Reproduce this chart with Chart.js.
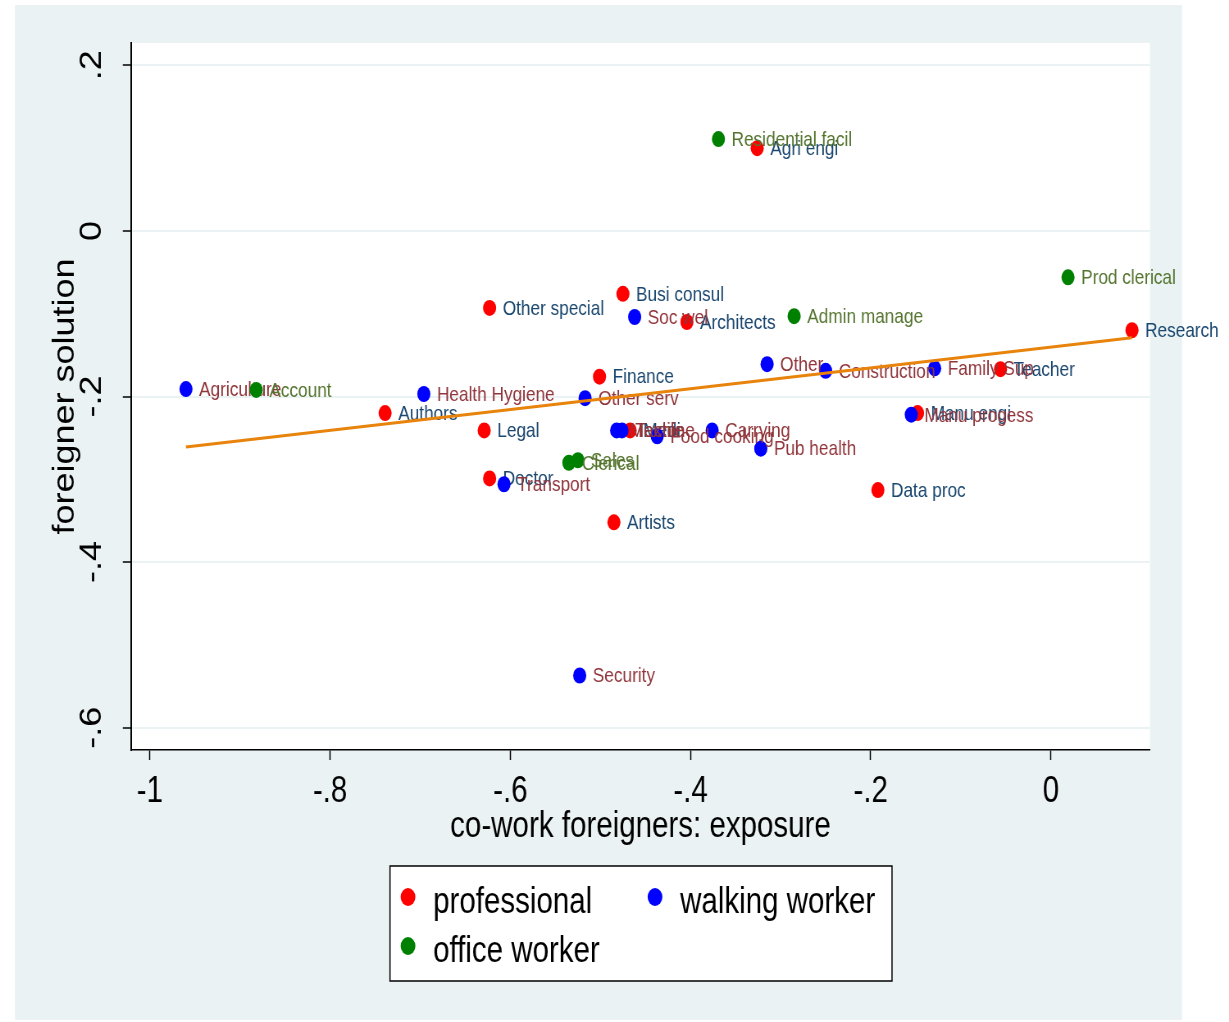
<!DOCTYPE html>
<html>
<head>
<meta charset="utf-8">
<script src="https://cdn.jsdelivr.net/npm/chart.js@4.4.1/dist/chart.umd.min.js"></script>
<style>
  html, body { margin: 0; padding: 0; background: #fff; overflow: hidden; }
  #chart { display: block; width: 1229px; height: 1022px; }
</style>
</head>
<body>
<canvas id="chart" width="1499" height="1022" style="width:1229px;height:1022px"></canvas>
<script>
// data
const profNames = ['Agri engi', 'Busi consul', 'Other special', 'Architects', 'Research', 'Teacher', 'Finance',
  'Authors', 'Manu engi', 'Legal', 'Medi', 'Doctor', 'Data proc', 'Artists'];
const profX = [-0.326, -0.475, -0.623, -0.404, 0.090, -0.056, -0.501, -0.739, -0.148, -0.629, -0.467, -0.623, -0.192, -0.485];
const profY = [0.100, -0.076, -0.093, -0.110, -0.120, -0.167, -0.176, -0.220, -0.220, -0.241, -0.241, -0.299, -0.313, -0.352];

const walkNames = ['Agriculture', 'Health Hygiene', 'Other serv', 'Soc wel', 'Other', 'Construction', 'Family Sup',
  'Manu progess', 'Machine', 'Textile', 'Food cooking', 'Carrying', 'Pub health', 'Transport', 'Security'];
const walkX = [-0.960, -0.696, -0.517, -0.462, -0.315, -0.250, -0.129, -0.155, -0.482, -0.476, -0.437, -0.376, -0.322, -0.607, -0.523];
const walkY = [-0.191, -0.197, -0.202, -0.104, -0.161, -0.169, -0.166, -0.222, -0.241, -0.241, -0.248, -0.241, -0.263, -0.306, -0.537];

const officeNames = ['Residential facil', 'Prod clerical', 'Admin manage', 'Account', 'Clerical', 'Sales'];
const officeX = [-0.369, 0.019, -0.285, -0.882, -0.535, -0.525];
const officeY = [0.111, -0.056, -0.103, -0.192, -0.280, -0.277];

// fitted line end points
const fitX = [-0.960, 0.090];
const fitY = [-0.261, -0.129];

const xTicks = [-1, -0.8, -0.6, -0.4, -0.2, 0];
const xTickLabels = ['-1', '-.8', '-.6', '-.4', '-.2', '0'];
const yTicks = [0.2, 0, -0.2, -0.4, -0.6];
const yTickLabels = ['.2', '0', '-.2', '-.4', '-.6'];

const groupNames = ['professional', 'walking worker', 'office worker'];

// canvas is wider than its css box, everything gets squeezed like the picture
const SX = 1499 / 1229;
const ix = v => v * SX;
const FONT = 'Liberation Sans, Arial, sans-serif';

function pts(xs, ys) {
  return xs.map((x, i) => ({ x: x, y: ys[i] }));
}

const bgPlugin = {
  id: 'bg',
  beforeDraw(chart) {
    const ctx = chart.ctx;
    const a = chart.chartArea;
    ctx.save();
    ctx.fillStyle = '#ffffff';
    ctx.fillRect(0, 0, chart.width, chart.height);
    ctx.fillStyle = '#eaf2f3';
    ctx.fillRect(ix(15), 5, ix(1182) - ix(15), 1015);
    ctx.fillStyle = '#ffffff';
    ctx.fillRect(a.left, a.top, a.right - a.left, a.bottom - a.top);
    ctx.restore();
  }
};

// marker labels, drawn straight after each group's points
const labelPlugin = {
  id: 'pointLabels',
  afterDatasetDraw(chart, args) {
    const ds = chart.data.datasets[args.index];
    if (!ds.names) return;
    const ctx = chart.ctx;
    ctx.save();
    ctx.font = '21px ' + FONT;
    ctx.fillStyle = ds.labelColor;
    ctx.textAlign = 'left';
    ctx.textBaseline = 'middle';
    args.meta.data.forEach((pt, i) => {
      ctx.fillText(ds.names[i], pt.x + 16, pt.y + 1);
    });
    ctx.restore();
  }
};

const titlePlugin = {
  id: 'axisTitles',
  afterDraw(chart) {
    const ctx = chart.ctx;
    const a = chart.chartArea;
    ctx.save();
    ctx.fillStyle = '#000';
    ctx.font = '36px ' + FONT;
    ctx.textAlign = 'center';
    ctx.textBaseline = 'alphabetic';
    ctx.fillText('co-work foreigners: exposure', (a.left + a.right) / 2, 837);
    ctx.translate(ix(74), (a.top + a.bottom) / 2);
    ctx.rotate(-Math.PI / 2);
    ctx.fillText('foreigner solution', 0, 0);
    ctx.restore();

    // legend box
    ctx.save();
    const bx = ix(390), by = 866, bw = ix(892) - ix(390), bh = 115;
    ctx.fillStyle = '#fff';
    ctx.fillRect(bx, by, bw, bh);
    ctx.strokeStyle = '#000';
    ctx.lineWidth = 1.5;
    ctx.strokeRect(bx, by, bw, bh);
    const items = [
      { x: 408, y: 897, base: 913 },
      { x: 655, y: 897, base: 913 },
      { x: 408, y: 946, base: 962 }
    ];
    ctx.font = '36px ' + FONT;
    ctx.textAlign = 'left';
    ctx.textBaseline = 'alphabetic';
    items.forEach((it, i) => {
      ctx.fillStyle = chart.data.datasets[i].backgroundColor;
      ctx.beginPath();
      ctx.arc(ix(it.x), it.y, 9, 0, Math.PI * 2);
      ctx.fill();
      ctx.fillStyle = '#000';
      ctx.fillText(groupNames[i], ix(it.x + 25), it.base);
    });
    ctx.restore();
  }
};

function setTicks(values) {
  return scale => { scale.ticks = values.map(v => ({ value: v })); };
}

new Chart(document.getElementById('chart'), {
  type: 'scatter',
  data: {
    datasets: [
      {
        label: groupNames[0], data: pts(profX, profY), names: profNames, labelColor: '#1a476f',
        backgroundColor: '#ff0000', borderWidth: 0, pointRadius: 8, order: 3
      },
      {
        label: groupNames[1], data: pts(walkX, walkY), names: walkNames, labelColor: '#90353b',
        backgroundColor: '#0000ff', borderWidth: 0, pointRadius: 8, order: 2
      },
      {
        label: groupNames[2], data: pts(officeX, officeY), names: officeNames, labelColor: '#55752f',
        backgroundColor: '#008000', borderWidth: 0, pointRadius: 8, order: 1
      },
      {
        label: 'fit', type: 'line', data: pts(fitX, fitY), showLine: true,
        borderColor: '#e8830c', borderWidth: 3, pointRadius: 0, fill: false, order: 0
      }
    ]
  },
  options: {
    responsive: false,
    devicePixelRatio: 1,
    animation: false,
    layout: { padding: { left: 0, top: 43, right: 1499 - ix(1150), bottom: 0 } },
    plugins: { legend: { display: false }, tooltip: { enabled: false } },
    scales: {
      x: {
        min: -1.021, max: 0.11,
        afterBuildTicks: setTicks(xTicks),
        afterFit: s => { s.height = 272; },
        grid: { drawOnChartArea: false, tickLength: 10, tickColor: '#000', tickWidth: 1.5 },
        border: { display: true, color: '#000', width: 1.5 },
        ticks: {
          padding: 10, color: '#000', font: { family: FONT, size: 36 },
          callback: v => xTickLabels[xTicks.findIndex(t => Math.abs(t - v) < 1e-6)]
        }
      },
      y: {
        min: -0.627, max: 0.227,
        afterBuildTicks: setTicks(yTicks),
        afterFit: s => { s.width = ix(131); },
        grid: { color: '#eaf2f3', lineWidth: 2, tickLength: 10, tickColor: '#000', tickWidth: 1.5 },
        border: { display: true, color: '#000', width: 2 },
        ticks: {
          padding: 16, color: '#000', minRotation: 90, maxRotation: 90, crossAlign: 'center',
          font: { family: FONT, size: 36 },
          callback: v => yTickLabels[yTicks.findIndex(t => Math.abs(t - v) < 1e-6)]
        }
      }
    }
  },
  plugins: [bgPlugin, labelPlugin, titlePlugin]
});
</script>
</body>
</html>
